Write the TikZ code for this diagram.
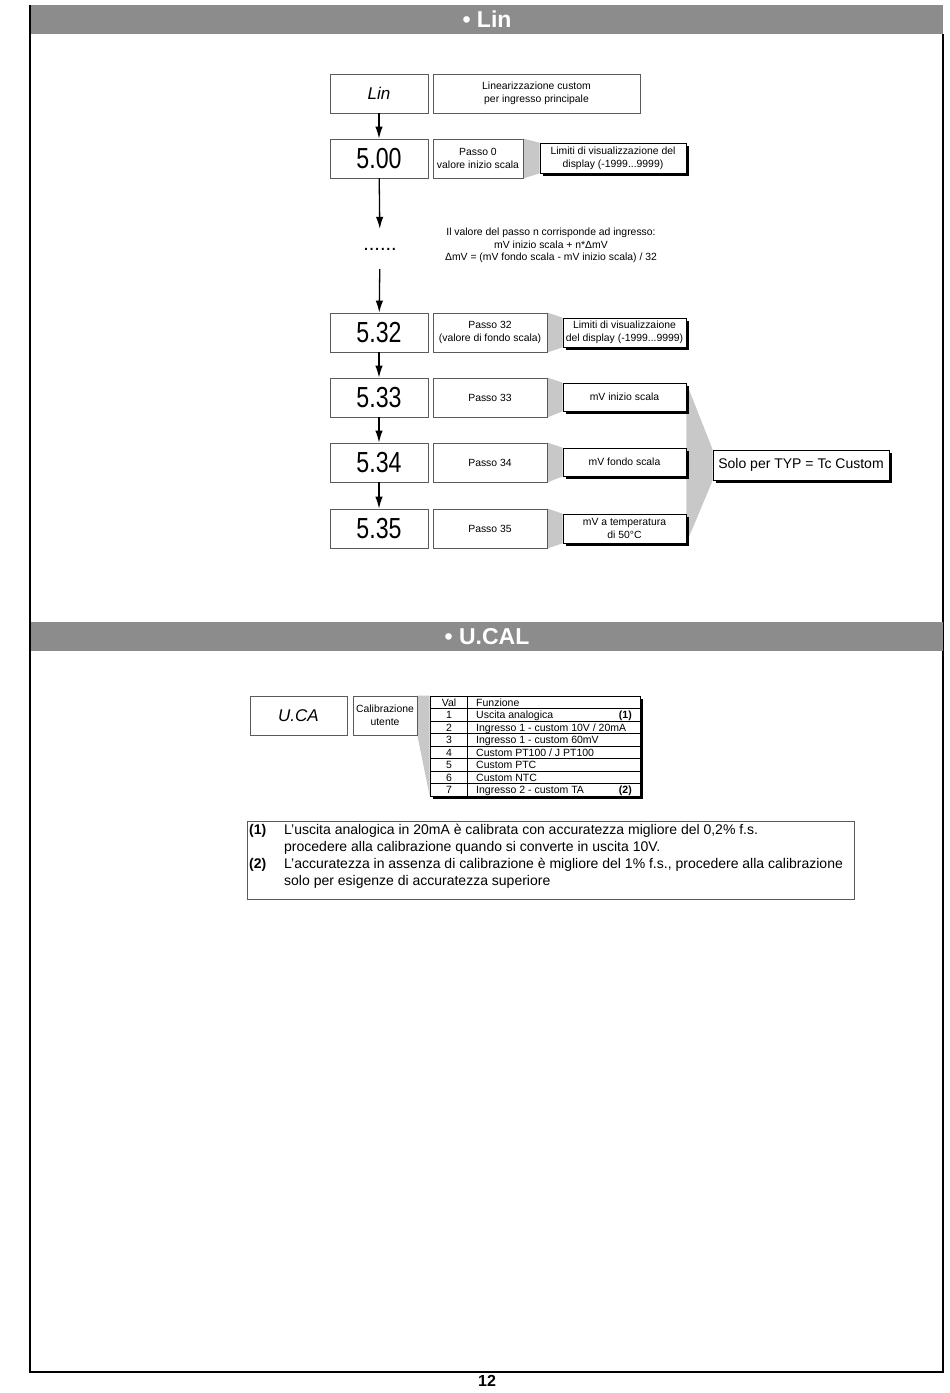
\documentclass[tikz,border=0pt]{standalone}
\usepackage{fontspec}
\setmainfont{Liberation Sans}
\usetikzlibrary{arrows.meta,positioning,shadows,backgrounds}
\definecolor{bargrey}{RGB}{140,140,140}
\definecolor{calloutgrey}{RGB}{200,200,200}
\definecolor{boxgrey}{RGB}{90,90,90}
\newcommand{\fs}[2]{\fontsize{#1}{#2}\selectfont}

\begin{document}
\begin{tikzpicture}[
    x=1pt, y=-1pt,
    arr/.style={-{Latex[length=12pt,width=7.5pt]}, line width=1.3pt},
    bar/.style={fill=bargrey, minimum width=912, minimum height=29, inner sep=0,
                text=white, font=\fs{23}{23}\bfseries},
    disp/.style={draw=boxgrey, line width=0.8pt, minimum width=98,
                 minimum height=39, inner sep=0, font=\fs{29}{29}},
    lbl/.style={draw=boxgrey, line width=0.8pt, minimum height=39, inner sep=1pt,
                align=center, font=\fs{10.4}{12.8}},
    shbox/.style={draw=black, line width=0.6pt, fill=white, minimum height=29,
                  inner sep=1pt, align=center, font=\fs{10.4}{12.8},
                  drop shadow={shadow xshift=3pt, shadow yshift=-3pt, fill=black, opacity=1}},
    callout/.style={fill=calloutgrey},
    cell/.style={font=\fs{10.5}{10.5}, inner sep=0},
    note/.style={font=\fs{14}{17}, anchor=base west, inner sep=0}
]
    \useasboundingbox (0,0) rectangle (950,1393);
    % page frame and section bars
    \draw[line width=1.8pt] (30,5) -- (30,1372) -- (943,1372) -- (943,34);
    \node[bar] (barlin) at (487,19.5) {• Lin};
    \node[bar] (barucal) at (487,636.5) {• U.CAL};

    % Lin
    \node[disp, font=\fs{17}{17}\itshape] (lin) at (379,93.5) {Lin};
    \node[lbl, minimum width=207] (lindesc) at (536.5,93.5) {Linearizzazione custom\\per ingresso principale};

    \node[disp] (s00) at (379,158.5) {\scalebox{0.8}[1]{5.00}};
    \node[lbl, minimum width=90] (p00) at (478,158.5) {Passo 0\\valore inizio scala};
    \node[shbox, minimum width=146, minimum height=30] (l00) at (613,158) {Limiti di visualizzazione del\\display (-1999...9999)};

    \node[font=\fs{20}{20}, minimum height=40, inner sep=0] (dots) at (380,249) {......};
    \node[font=\fs{10.4}{12.5}, align=center] (rule) at (551,245.5) {Il valore del passo n corrisponde ad ingresso:\\mV inizio scala + n*ΔmV\\ΔmV = (mV fondo scala - mV inizio scala) / 32};

    \node[disp] (s32) at (379,332.5) {\scalebox{0.8}[1]{5.32}};
    \node[lbl, minimum width=114] (p32) at (490,332.5) {Passo 32\\(valore di fondo scala)};
    \node[shbox, minimum width=123] (l32) at (624.5,332.5) {Limiti di visualizzaione\\del display (-1999...9999)};

    \node[disp] (s33) at (379,397.5) {\scalebox{0.8}[1]{5.33}};
    \node[lbl, minimum width=114] (p33) at (490,397.5) {Passo 33};
    \node[shbox, minimum width=123, minimum height=28] (m33) at (624.5,397) {mV inizio scala};

    \node[disp] (s34) at (379,462.5) {\scalebox{0.8}[1]{5.34}};
    \node[lbl, minimum width=114] (p34) at (490,462.5) {Passo 34};
    \node[shbox, minimum width=123, minimum height=28] (m34) at (624.5,462) {mV fondo scala};

    \node[disp] (s35) at (379,528.5) {\scalebox{0.8}[1]{5.35}};
    \node[lbl, minimum width=114] (p35) at (490,528.5) {Passo 35};
    \node[shbox, minimum width=123] (m35) at (624.5,528.5) {mV a temperatura\\di 50°C};

    \node[shbox, font=\fs{14}{14}, minimum width=176, minimum height=30] (solo) at (801,465) {Solo per TYP = Tc Custom};

    \draw[arr] (lin) -- (s00);
    \draw[arr] (s00) -- (dots);
    \draw[arr] (dots) -- (s32);
    \foreach \a/\b in {s32/s33, s33/s34, s34/s35}
        \draw[arr] (\a) -- (\b);

    \begin{scope}[on background layer]
        \foreach \a/\b in {p00/l00, p32/l32, p33/m33, p34/m34, p35/m35}
            \fill[callout] (\a.north east) -- (\b.north west) -- (\b.south west) -- (\a.south east) -- cycle;
        \fill[callout] (m33.north east) -- (solo.north west) -- (solo.south west) -- (m35.south east) -- cycle;
    \end{scope}

    % U.CAL
    \node[disp, minimum width=97, font=\fs{17}{17}\itshape] (uca) at (298.5,715.5) {U.CA};
    \node[lbl, minimum width=64] (ucadesc) at (385,715.5) {Calibrazione\\utente};
    \node[shbox, minimum width=210, minimum height=100, inner sep=0] (tab) at (535,746) {};
    \foreach \k in {0,...,6}
        \draw[line width=0.5pt] (430,{708.5+12.5*\k}) -- (640,{708.5+12.5*\k});
    \draw[line width=0.5pt] (467,696) -- (467,796);
    \node[cell, anchor=base] (hval) at (449,706) {Val};
    \node[cell, anchor=base west] (hfun) at (476,706) {Funzione};
    \foreach \v/\f [count=\i] in {1/{Uscita analogica}, 2/{Ingresso 1 - custom 10V / 20mA},
            3/{Ingresso 1 - custom 60mV}, 4/{Custom PT100 / J PT100}, 5/{Custom PTC},
            6/{Custom NTC}, 7/{Ingresso 2 - custom TA}} {
        \node[cell, anchor=base] (v\v) at (449,{706+12.5*\i}) {\v};
        \node[cell, anchor=base west] (f\v) at (476,{706+12.5*\i}) {\f};
    }
    \node[cell, anchor=base east, font=\fs{10.5}{10.5}\bfseries] (ref1) at (632,718.5) {(1)};
    \node[cell, anchor=base east, font=\fs{10.5}{10.5}\bfseries] (ref2) at (632,793.5) {(2)};

    \begin{scope}[on background layer]
        \fill[callout] (ucadesc.north east) -- (tab.north west) -- (tab.south west) -- (ucadesc.south east) -- cycle;
    \end{scope}

    % footnotes
    \node[draw=boxgrey, line width=0.8pt, minimum width=607, minimum height=78] (fnbox) at (550.5,860) {};
    \node[note, font=\fs{14}{17}\bfseries] (n1) at (249,834) {(1)};
    \node[note] (n1a) at (284,834) {L’uscita analogica in 20mA è calibrata con accuratezza migliore del 0,2\% f.s.};
    \node[note] (n1b) at (284,851) {procedere alla calibrazione quando si converte in uscita 10V.};
    \node[note, font=\fs{14}{17}\bfseries] (n2) at (249,868) {(2)};
    \node[note] (n2a) at (284,868) {L’accuratezza in assenza di calibrazione è migliore del 1\% f.s., procedere alla calibrazione};
    \node[note] (n2b) at (284,885) {solo per esigenze di accuratezza superiore};

    \node[font=\fs{16}{16}\bfseries] (page) at (487,1381) {12};
\end{tikzpicture}
\end{document}
